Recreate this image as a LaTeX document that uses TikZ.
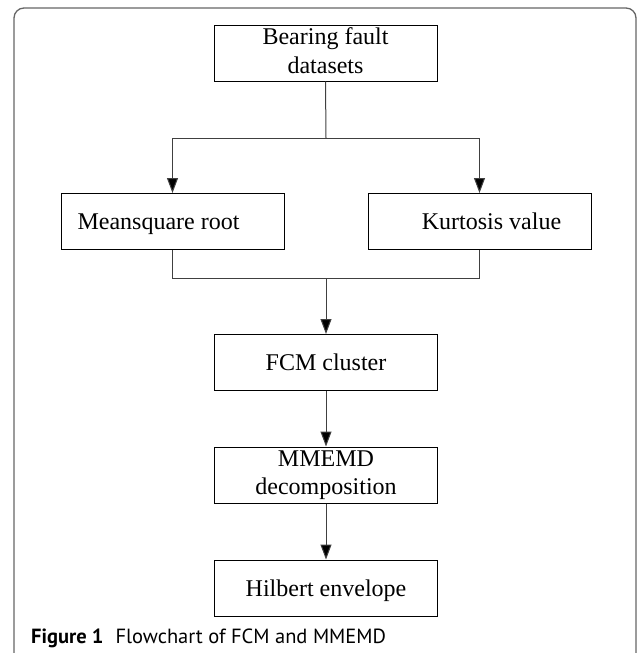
\documentclass[tikz,border=0pt]{standalone}
\usepackage{fontspec}
\setmainfont{Liberation Serif}
\newfontfamily\capfont{PT Sans}
\usetikzlibrary{arrows.meta}
\begin{document}
\begin{tikzpicture}[x=1pt,y=-1pt,
  box/.style={draw=black,line width=1pt,minimum width=223pt,minimum height=56pt,inner sep=0pt,
    font=\fontsize{24}{28.5}\selectfont,align=center},
  onebox/.style={box,text height=20pt,text depth=4pt},
  conn/.style={draw=black!75,line width=1pt},
  arr/.style={conn,-{Triangle[length=15pt,width=11pt,fill=black]}}]
\useasboundingbox (0,0) rectangle (637,653);
\draw[black!60,line width=1.3pt,rounded corners=10pt] (14,660) -- (14,8) -- (636,8) -- (636,660);
\node[box] (bf) at (325.5,53) {Bearing fault\\datasets\vphantom{p}};
\node[onebox] (ms) at (172.5,221.5) {\hspace*{-28pt}Meansquare root};
\node[onebox] (kv) at (479.5,221.5) {\hspace*{24pt}Kurtosis value};
\node[onebox] (fcm) at (326,362.5) {FCM cluster};
\node[box] (mm) at (326,475) {MMEMD\\decomposition};
\node[onebox] (hb) at (326,588) {Hilbert envelope};
\coordinate (split) at (326,138);
\coordinate (join) at (326,278);
\draw[conn] (bf.south) -- (split);
\draw[arr] (split) -| (ms.north);
\draw[arr] (split) -| (kv.north);
\draw[conn] (ms.south) |- (join);
\draw[conn] (kv.south) |- (join);
\draw[arr] (join) -- (fcm.north);
\draw[arr] (fcm.south) -- (mm.north);
\draw[arr] (mm.south) -- (hb.north);
\node[anchor=base west,inner sep=0pt,font=\capfont\fontsize{20.5}{24}\selectfont] (cap) at (31,643) {\textbf{Figure 1}\hspace{12pt}Flowchart of FCM and MMEMD};
\end{tikzpicture}
\end{document}
